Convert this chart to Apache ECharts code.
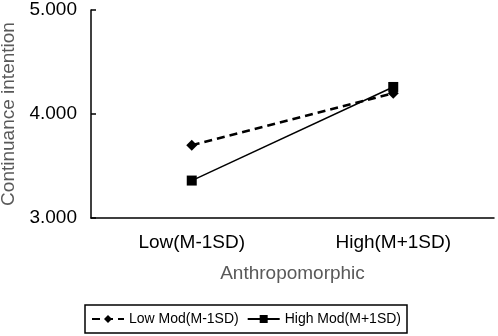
<!DOCTYPE html>
<html><head><meta charset="utf-8">
<script src="https://cdn.jsdelivr.net/npm/echarts@6/dist/echarts.min.js"></script>
<style>html,body{margin:0;padding:0;background:#fff}#c{width:498px;height:336px}</style>
</head><body><div id="c"></div>
<script>
const categories = ['Low(M-1SD)', 'High(M+1SD)'];
const lowMod = [3.70, 4.20];
const highMod = [3.36, 4.26];
const seriesNames = ['Low Mod(M-1SD)', 'High Mod(M+1SD)'];
const yTicks = [3, 4, 5];

const chart = echarts.init(document.getElementById('c'), null, {renderer: 'canvas'});
const font = 'Arial, "Liberation Sans", sans-serif';
chart.setOption({
  animation: false,
  backgroundColor: '#fff',
  grid: {left: 91, right: 4, top: 10, bottom: 118, containLabel: false, outerBoundsMode: 'none'},
  xAxis: {
    type: 'category', data: categories, boundaryGap: true,
    name: 'Anthropomorphic', nameLocation: 'middle', nameGap: 46,
    nameTextStyle: {color: '#595959', fontSize: 19, fontFamily: font},
    axisLine: {lineStyle: {color: '#000', width: 1.5}},
    axisTick: {inside: true, alignWithLabel: true, length: 5, lineStyle: {color: '#000', width: 1.5}},
    axisLabel: {color: '#000', fontSize: 19, fontFamily: font, margin: 15}
  },
  yAxis: {
    type: 'value', min: yTicks[0], max: yTicks[yTicks.length - 1], interval: 1,
    name: 'Continuance intention', nameLocation: 'middle', nameGap: 69,
    nameTextStyle: {color: '#595959', fontSize: 19, fontFamily: font},
    axisLine: {show: true, lineStyle: {color: '#000', width: 1.5}},
    axisTick: {show: true, inside: true, length: 5, lineStyle: {color: '#000', width: 1.5}},
    splitLine: {show: false},
    axisLabel: {color: '#000', fontSize: 19, fontFamily: font, margin: 14,
      formatter: v => v.toFixed(3)}
  },
  legend: {
    bottom: 3, left: 85, width: 330,
    itemWidth: 32, itemHeight: 10, itemGap: 8,
    padding: [7, 6, 7, 6],
    borderColor: '#000', borderWidth: 1.5,
    textStyle: {color: '#000', fontSize: 14, fontFamily: font},
    data: seriesNames
  },
  series: [
    {name: seriesNames[0], type: 'line', data: lowMod, symbol: 'diamond', symbolSize: 11,
     itemStyle: {color: '#000'}, lineStyle: {color: '#000', width: 2.5, type: [8, 5]}},
    {name: seriesNames[1], type: 'line', data: highMod, symbol: 'rect', symbolSize: 10,
     itemStyle: {color: '#000'}, lineStyle: {color: '#000', width: 1.5}}
  ]
});
</script></body></html>
